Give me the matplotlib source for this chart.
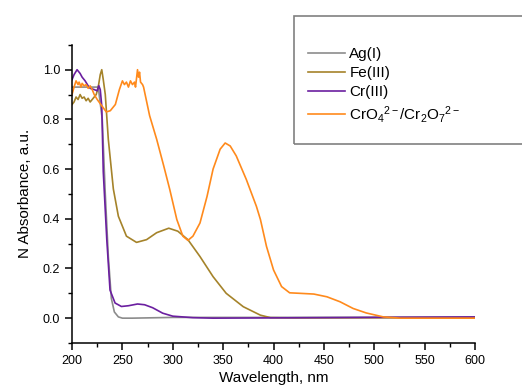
import matplotlib.pyplot as plt
from matplotlib.patches import Rectangle
from matplotlib.ticker import MultipleLocator

plt.rcParams['font.family'] = ['Liberation Sans', 'DejaVu Sans']
plt.rcParams['mathtext.fontset'] = 'custom'
plt.rcParams['mathtext.rm'] = 'Liberation Sans'
plt.rcParams['mathtext.it'] = 'Liberation Sans'

# Ag(I)
ag_wl = [200, 215, 226, 230, 233, 236, 239, 242, 246, 250, 260, 300, 400, 600]
ag_abs = [0.93, 0.93, 0.93, 0.80, 0.50, 0.25, 0.08, 0.025, 0.005, 0.0, 0.0, 0.003, 0.003, 0.004]

# Fe(III)
fe_wl = [200, 202, 204, 206, 208, 210, 212, 214, 216, 218, 220, 222, 224, 226, 228,
         229.5, 231, 233, 236, 241, 246, 254, 264, 274, 284, 296, 305, 315, 327,
         340, 353, 370, 387, 397, 420, 600]
fe_abs = [0.86, 0.87, 0.89, 0.88, 0.90, 0.885, 0.89, 0.875, 0.885, 0.87, 0.88, 0.89,
          0.90, 0.93, 0.98, 1.0, 0.96, 0.90, 0.72, 0.52, 0.41, 0.33, 0.305, 0.316,
          0.344, 0.362, 0.35, 0.316, 0.248, 0.167, 0.10, 0.046, 0.012, 0.002, 0.001, 0.002]

# Cr(III)
cr_wl = [200, 202, 205, 208, 210, 213, 216, 218, 222, 225, 226.5, 228, 229.5, 231,
         234.5, 237.7, 242.7, 249, 256, 265, 272, 280, 290, 300, 320, 340, 600]
cr_abs = [0.96, 0.98, 1.0, 0.985, 0.97, 0.955, 0.935, 0.925, 0.92, 0.915, 0.936, 0.92,
          0.855, 0.59, 0.316, 0.113, 0.061, 0.047, 0.05, 0.057, 0.054, 0.042, 0.02,
          0.008, 0.002, 0.0, 0.005]

# CrO4 2- / Cr2O7 2-
cro_wl = [200, 202, 204, 206, 207, 209, 210, 212, 214, 216, 218, 220, 222, 225, 229.5,
          234, 238, 243, 247, 250, 252, 254, 256, 258, 260, 262, 263, 265, 266, 267,
          268, 270, 271, 277, 284, 291, 297, 304, 310, 315, 320, 327, 334, 340, 347,
          352, 357, 363, 373, 383, 387, 393, 400, 408, 416, 426, 440, 453, 466, 479,
          492, 509, 526, 600]
cro_abs = [0.90, 0.93, 0.955, 0.94, 0.95, 0.93, 0.945, 0.935, 0.94, 0.925, 0.935, 0.92,
           0.90, 0.88, 0.855, 0.83, 0.835, 0.86, 0.92, 0.955, 0.94, 0.95, 0.93, 0.955,
           0.94, 0.95, 0.93, 1.0, 0.97, 0.99, 0.95, 0.94, 0.93, 0.815, 0.72, 0.613,
           0.518, 0.397, 0.33, 0.313, 0.33, 0.383, 0.49, 0.60, 0.68, 0.705, 0.693,
           0.653, 0.558, 0.45, 0.397, 0.289, 0.194, 0.127, 0.102, 0.10, 0.097, 0.086,
           0.066, 0.039, 0.021, 0.005, 0.0, 0.0]

fig = plt.figure(figsize=(5.22, 3.9), dpi=100)
ax = fig.add_axes([0.138, 0.1205, 0.772, 0.7645])

ax.plot(ag_wl, ag_abs, color='#8c8c8c', lw=1.2, label='Ag(I)')
ax.plot(fe_wl, fe_abs, color='#a5832a', lw=1.2, label='Fe(III)')
ax.plot(cr_wl, cr_abs, color='#6b1fa0', lw=1.2, label='Cr(III)')
ax.plot(cro_wl, cro_abs, color='#ff8a1c', lw=1.2,
        label='CrO$_4$$^{2-}$/Cr$_2$O$_7$$^{2-}$')

ax.set_xlim(200, 600)
ax.set_ylim(-0.1, 1.1)
ax.xaxis.set_major_locator(MultipleLocator(50))
ax.xaxis.set_minor_locator(MultipleLocator(25))
ax.yaxis.set_minor_locator(MultipleLocator(0.1))
ax.set_yticks([0.0, 0.2, 0.4, 0.6, 0.8, 1.0])
ax.yaxis.set_major_formatter(plt.FormatStrFormatter('%.1f'))
ax.tick_params(which='major', direction='out', length=5, width=1.1, labelsize=9)
ax.tick_params(which='minor', direction='out', length=3, width=1.0)
for s in ['top', 'right']:
    ax.spines[s].set_visible(False)
for s in ['left', 'bottom']:
    ax.spines[s].set_linewidth(1.1)

ax.set_xlabel('Wavelength, nm', fontsize=11, labelpad=3)
ax.set_ylabel('N Absorbance, a.u.', fontsize=11, labelpad=8)

# legend frame reaching past the right edge
fig.patches.append(Rectangle((294 / 522, 1 - 144 / 390), 0.5, 128 / 390,
                             transform=fig.transFigure, fill=False,
                             edgecolor='#808080', lw=1.2, clip_on=False))
fig.legend(loc='upper left', bbox_to_anchor=(302 / 522, 1 - 41 / 390),
           frameon=False, fontsize=11, handlelength=2.4, handletextpad=0.3,
           labelspacing=0.33, borderaxespad=0)

fig.savefig('out.png', dpi=100)
